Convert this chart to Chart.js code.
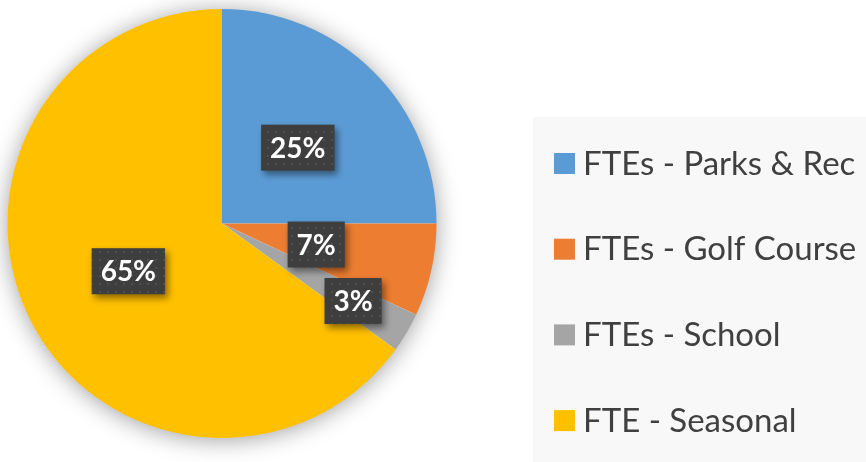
<!DOCTYPE html>
<html>
<head>
<meta charset="utf-8">
<script src="https://cdn.jsdelivr.net/npm/chart.js@4"></script>
<style>
  html, body { margin: 0; padding: 0; background: #fff; }
  #wrap { width: 866px; height: 462px; }
</style>
</head>
<body>
<div id="wrap"><canvas id="myChart" width="866" height="462"></canvas></div>
<script>
const categories = ["FTEs - Parks & Rec", "FTEs - Golf Course", "FTEs - School", "FTE - Seasonal"];
const shares = [25, 7, 3, 65];
const sliceColors = ["#5B9BD5", "#ED7D31", "#A5A5A5", "#FFC000"];
// how far out (fraction of radius) each data label sits
const labelRadius = [0.5, 0.45, 0.71, 0.49];

// dotted dark fill for the label boxes
const patCanvas = document.createElement("canvas");
patCanvas.width = 8;
patCanvas.height = 8;
const pctx = patCanvas.getContext("2d");
pctx.fillStyle = "#3e3e3e";
pctx.fillRect(0, 0, 8, 8);
pctx.fillStyle = "#4e4e4e";
pctx.fillRect(3, 3, 2, 2);

const pieShadow = {
  id: "pieShadow",
  beforeDatasetsDraw(chart) {
    const arc = chart.getDatasetMeta(0).data[0];
    if (!arc) return;
    const ctx = chart.ctx;
    ctx.save();
    ctx.shadowColor = "rgba(0,0,0,0.4)";
    ctx.shadowBlur = 24;
    ctx.shadowOffsetY = 2;
    ctx.fillStyle = "#ffffff";
    ctx.beginPath();
    ctx.arc(arc.x, arc.y, arc.outerRadius - 1, 0, Math.PI * 2);
    ctx.fill();
    ctx.restore();
  },
};

const boxLabels = {
  id: "boxLabels",
  afterDatasetsDraw(chart) {
    const ctx = chart.ctx;
    const pattern = ctx.createPattern(patCanvas, "repeat");
    ctx.save();
    ctx.font = "bold 28px Lato";
    ctx.textAlign = "center";
    ctx.textBaseline = "middle";
    chart.getDatasetMeta(0).data.forEach((arc, i) => {
      const mid = (arc.startAngle + arc.endAngle) / 2;
      const r = arc.outerRadius * labelRadius[i];
      const x = arc.x + Math.cos(mid) * r;
      const y = arc.y + Math.sin(mid) * r;
      const txt = shares[i] + "%";
      const w = ctx.measureText(txt).width + 18;
      const h = 46;
      ctx.save();
      ctx.shadowColor = "rgba(0,0,0,0.45)";
      ctx.shadowBlur = 7;
      ctx.shadowOffsetX = 3;
      ctx.shadowOffsetY = 4;
      ctx.fillStyle = pattern;
      ctx.fillRect(x - w / 2, y - h / 2, w, h);
      ctx.restore();
      ctx.fillStyle = "#ffffff";
      ctx.fillText(txt, x, y + 1);
    });
    ctx.restore();
  },
};

const sideLegend = {
  id: "sideLegend",
  afterDraw(chart) {
    const ctx = chart.ctx;
    const items = Chart.overrides.pie.plugins.legend.labels.generateLabels(chart);
    ctx.save();
    ctx.fillStyle = "#f8f8f8";
    ctx.fillRect(533, 117, 333, 345);
    ctx.font = "33px Lato";
    ctx.textBaseline = "middle";
    items.forEach((it, i) => {
      const y = 163 + i * 85.7;
      ctx.fillStyle = it.fillStyle;
      ctx.fillRect(554, y - 10, 21, 21);
      ctx.fillStyle = "#404040";
      ctx.fillText(it.text, 583, y + 1);
    });
    ctx.restore();
  },
};

new Chart(document.getElementById("myChart"), {
  type: "pie",
  data: {
    labels: categories,
    datasets: [
      {
        data: shares,
        backgroundColor: sliceColors,
        borderWidth: 0,
      },
    ],
  },
  options: {
    responsive: false,
    animation: false,
    layout: {
      padding: { left: 7, right: 429, top: 9, bottom: 24 },
    },
    plugins: {
      legend: { display: false },
      tooltip: { enabled: false },
    },
  },
  plugins: [pieShadow, boxLabels, sideLegend],
});
</script>
</body>
</html>
